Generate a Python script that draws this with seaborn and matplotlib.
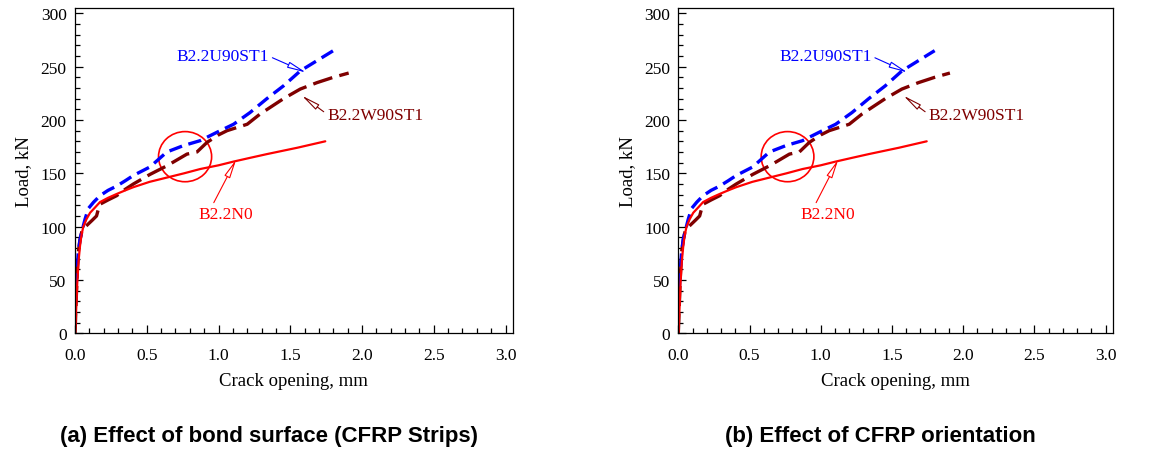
import numpy as np
import pandas as pd
import matplotlib
matplotlib.use("Agg")
import matplotlib.pyplot as plt
import seaborn as sns
from matplotlib.patches import Ellipse
from matplotlib.ticker import MultipleLocator

# ---- data ----
n0_x = [0.0, 0.005, 0.01, 0.016, 0.025, 0.035, 0.045, 0.058, 0.08, 0.105, 0.14, 0.174, 0.23, 0.29, 0.35, 0.407, 0.52, 0.64, 0.76, 0.872, 1.0, 1.105, 1.22, 1.337, 1.55, 1.744]
n0_y = [0.0, 12, 28, 48, 68, 82, 92, 100, 107, 113, 118, 123, 127, 130.6, 134, 137, 142, 146, 150, 154, 157.5, 161, 164.5, 168, 174, 180]

u90_x = [0.0, 0.005, 0.012, 0.023, 0.035, 0.047, 0.07, 0.093, 0.13, 0.174, 0.23, 0.29, 0.35, 0.407, 0.523, 0.64, 0.756, 0.872, 0.988, 1.105, 1.22, 1.337, 1.453, 1.57, 1.686, 1.8]
u90_y = [25, 35, 55, 76, 88, 95, 107, 117, 123, 129, 134, 138, 143, 148, 156, 170, 176, 180.6, 188.4, 196, 207, 220, 232, 246, 255.6, 265]

w90_x = [0.0, 0.003, 0.008, 0.015, 0.023, 0.035, 0.047, 0.065, 0.081, 0.12, 0.15, 0.16, 0.174, 0.23, 0.29, 0.35, 0.407, 0.523, 0.64, 0.78, 0.85, 0.92, 1.0, 1.06, 1.2, 1.29, 1.453, 1.57, 1.686, 1.8, 1.907]
w90_y = [0.0, 10, 30, 55, 76, 88, 95, 99, 101, 106, 110, 115, 121, 125, 129, 135, 140, 149, 157, 168, 170, 179, 186, 190, 196, 205.6, 220, 229, 235, 240, 244]

panel_titles = ["(a) Effect of bond surface (CFRP Strips)", "(b) Effect of CFRP orientation"]
x_label = "Crack opening, mm"
y_label = "Load, kN"
label_u90 = "B2.2U90ST1"
label_w90 = "B2.2W90ST1"
label_n0 = "B2.2N0"

sns.set_theme(style="ticks")
plt.rcParams["font.family"] = ["Liberation Serif", "DejaVu Serif"]
plt.rcParams["text.color"] = "black"
plt.rcParams["axes.labelcolor"] = "black"
plt.rcParams["xtick.color"] = "black"
plt.rcParams["ytick.color"] = "black"

fig = plt.figure(figsize=(11.65, 4.52), dpi=100)
W, H = 1165.0, 452.0
ax_boxes = [(75, 512.7), (678.3, 1112.7)]
top_px, bot_px = 9.3, 334.3
title_x = [269, 880.5]

C_BLUE = "#0000FF"
C_DRED = "#7F0000"
C_RED = "#FF0000"

df_n0 = pd.DataFrame({"x": n0_x, "y": n0_y})
df_u90 = pd.DataFrame({"x": u90_x, "y": u90_y})
df_w90 = pd.DataFrame({"x": w90_x, "y": w90_y})

for i, (l, r) in enumerate(ax_boxes):
    ax = fig.add_axes([l / W, 1 - bot_px / H, (r - l) / W, (bot_px - top_px) / H])
    sns.lineplot(data=df_w90, x="x", y="y", ax=ax, sort=False, estimator=None,
                 color=C_DRED, lw=2.4, dashes=False)
    ax.lines[-1].set_dashes([6, 2.2])
    sns.lineplot(data=df_u90, x="x", y="y", ax=ax, sort=False, estimator=None,
                 color=C_BLUE, lw=2.4, dashes=False)
    ax.lines[-1].set_dashes([4, 2])
    sns.lineplot(data=df_n0, x="x", y="y", ax=ax, sort=False, estimator=None,
                 color=C_RED, lw=1.6)

    ax.set_xlim(0, 3.05)
    ax.set_ylim(0, 304.7)
    ax.xaxis.set_major_locator(MultipleLocator(0.5))
    ax.xaxis.set_minor_locator(MultipleLocator(0.1))
    ax.yaxis.set_major_locator(MultipleLocator(50))
    ax.yaxis.set_minor_locator(MultipleLocator(10))
    ax.set_xticks([0, 0.5, 1.0, 1.5, 2.0, 2.5, 3.0])
    ax.set_xticklabels(["0.0", "0.5", "1.0", "1.5", "2.0", "2.5", "3.0"])
    ax.tick_params(which="both", direction="in", top=False, right=False, colors="black",
                   labelsize=12.5, width=0.9)
    ax.tick_params(which="major", length=6)
    ax.tick_params(which="minor", length=3.5)
    ax.tick_params(axis="x", which="major", pad=10)
    ax.tick_params(axis="y", which="major", pad=6)
    for s in ax.spines.values():
        s.set_color("black")
        s.set_linewidth(0.9)
    ax.set_xlabel(x_label, fontsize=13.5, labelpad=6)
    ax.set_ylabel(y_label, fontsize=13.5, labelpad=6)

    # circle highlight
    ax.add_patch(Ellipse((0.767, 165.6), 0.37, 47, fill=False, ec=C_RED, lw=1.2))

    arrow_kw = dict(arrowstyle="-|>,head_length=0.9,head_width=0.15", lw=0.8, shrinkA=0, shrinkB=0)
    ax.annotate(label_u90, xy=(1.61, 244.5), xytext=(0.709, 259.7), color=C_BLUE,
                fontsize=12.5, va="center", ha="left",
                arrowprops=dict(color=C_BLUE, fc="white", relpos=(1.0, 0.5), **arrow_kw))
    ax.annotate(label_w90, xy=(1.581, 222.8), xytext=(1.756, 204.7), color=C_DRED,
                fontsize=12.5, va="center", ha="left",
                arrowprops=dict(color=C_DRED, fc="white", relpos=(0.0, 0.55), **arrow_kw))
    ax.annotate(label_n0, xy=(1.123, 162.8), xytext=(0.86, 111.9), color=C_RED,
                fontsize=12.5, va="center", ha="left",
                arrowprops=dict(color=C_RED, fc="white", relpos=(0.25, 1.0), **arrow_kw))

    fig.text(title_x[i] / W, 1 - 437 / H, panel_titles[i], ha="center", va="center",
             fontsize=16, fontweight="bold", color="black",
             family=["Liberation Sans", "DejaVu Sans"])

fig.savefig("out.png", dpi=100)
